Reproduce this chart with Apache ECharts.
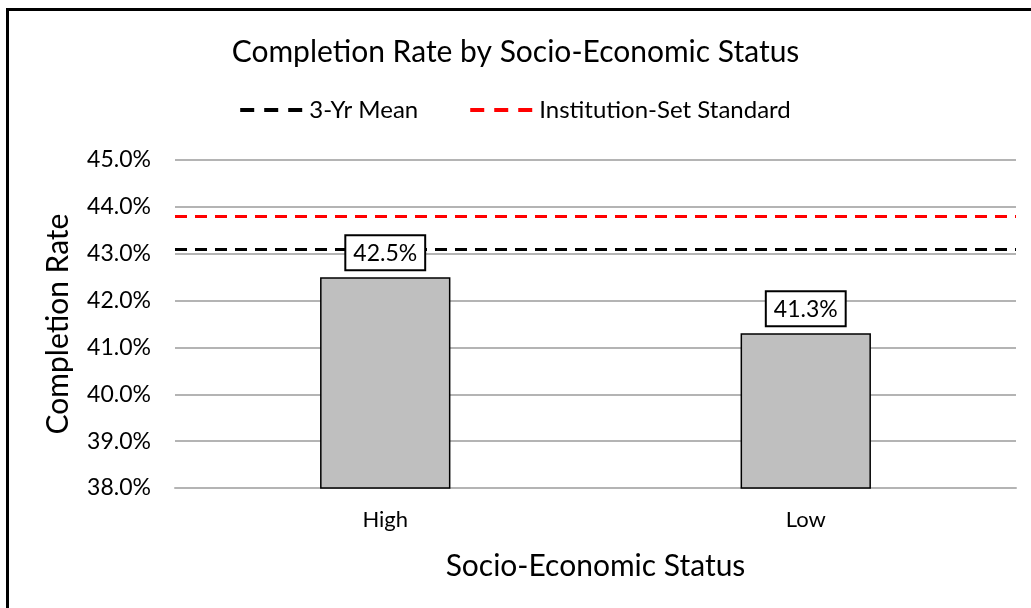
<!DOCTYPE html>
<html>
<head>
<meta charset="utf-8">
<script src="https://cdn.jsdelivr.net/npm/echarts@6/dist/echarts.min.js"></script>
<style>
  html, body { margin: 0; padding: 0; background: #fff; }
  #chart { width: 1031px; height: 608px; }
</style>
</head>
<body>
<div id="chart"></div>
<script>
// completion rate by socio-economic status (percent)
const categories = ['High', 'Low'];
const completionRate = [42.5, 41.3];
const meanRate = 43.1;       // 3-Yr Mean
const standardRate = 43.8;   // Institution-Set Standard
const yMin = 38, yMax = 45, yStep = 1;

const FONT = 'Lato';
const dashIcon = 'path://M0,0h14v4h-14z M24,0h14v4h-14z M48,0h14v4h-14z';

function renderChart() {
  const chart = echarts.init(document.getElementById('chart'));
  const option = {
    animation: false,
    textStyle: { fontFamily: FONT },
    title: {
      text: 'Completion Rate by Socio-Economic Status',
      left: 'center',
      top: 32,
      textStyle: { fontFamily: FONT, fontSize: 30, fontWeight: 'normal', color: '#000' }
    },
    legend: {
      top: 93,
      left: 'center',
      itemWidth: 62,
      itemHeight: 4,
      itemGap: 52,
      textStyle: { fontFamily: FONT, fontSize: 24, color: '#000', padding: [0, 0, 0, 2] },
      data: [
        { name: '3-Yr Mean', icon: dashIcon },
        { name: 'Institution-Set Standard', icon: dashIcon }
      ]
    },
    grid: { left: 175, right: 15, top: 160, bottom: 120 },
    xAxis: {
      type: 'category',
      data: categories,
      axisLine: { lineStyle: { color: '#b4b4b4', width: 2 } },
      axisTick: { show: false },
      axisLabel: { fontSize: 22, color: '#000', margin: 21, fontFamily: FONT },
      name: 'Socio-Economic Status',
      nameLocation: 'middle',
      nameGap: 63,
      nameTextStyle: { fontSize: 30, color: '#000', fontFamily: FONT }
    },
    yAxis: {
      type: 'value',
      min: yMin,
      max: yMax,
      interval: yStep,
      axisLine: { show: false },
      axisTick: { show: false },
      splitLine: { lineStyle: { color: '#b4b4b4', width: 2 } },
      axisLabel: {
        fontSize: 23, color: '#000', margin: 24, fontFamily: FONT,
        formatter: v => v.toFixed(1) + '%'
      },
      name: 'Completion Rate',
      nameLocation: 'middle',
      nameGap: 102,
      nameTextStyle: { fontSize: 30, color: '#000', fontFamily: FONT }
    },
    series: [
      {
        name: 'Completion Rate',
        type: 'bar',
        data: completionRate,
        barWidth: '31%',
        itemStyle: { color: '#bfbfbf', borderColor: '#000', borderWidth: 1.5 },
        label: {
          show: true,
          position: 'top',
          distance: 8,
          formatter: p => p.value.toFixed(1) + '%',
          fontSize: 23,
          color: '#000',
          fontFamily: FONT,
          backgroundColor: '#fff',
          borderColor: '#000',
          borderWidth: 2,
          padding: [6, 7, 4, 7]
        },
        z: 10
      },
      {
        name: '3-Yr Mean',
        type: 'line',
        data: [],
        color: '#000',
        markLine: {
          silent: true,
          symbol: 'none',
          z: 1,
          label: { show: false },
          lineStyle: { color: '#000', type: [12, 8], width: 3 },
          data: [{ yAxis: meanRate }]
        },
        z: 1
      },
      {
        name: 'Institution-Set Standard',
        type: 'line',
        data: [],
        color: '#ff0000',
        markLine: {
          silent: true,
          symbol: 'none',
          z: 1,
          label: { show: false },
          lineStyle: { color: '#ff0000', type: [12, 8], width: 3 },
          data: [{ yAxis: standardRate }]
        },
        z: 1
      }
    ],
    graphic: [
      {
        type: 'rect',
        shape: { x: 7.5, y: 9.5, width: 1100, height: 700 },
        style: { fill: 'none', stroke: '#000', lineWidth: 3 },
        silent: true
      }
    ]
  };
  chart.setOption(option, true);
}
renderChart();
</script>
</body>
</html>
